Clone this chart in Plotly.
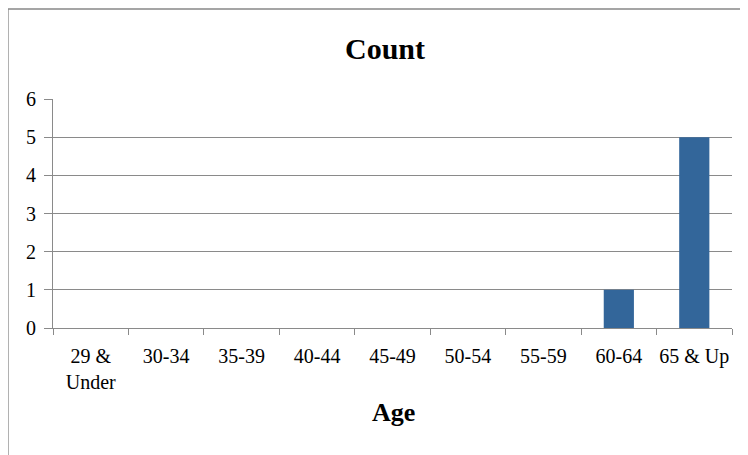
import plotly.graph_objects as go

categories = ["29 &<br>Under", "30-34", "35-39", "40-44", "45-49", "50-54", "55-59", "60-64", "65 & Up"]
counts = [0, 0, 0, 0, 0, 0, 0, 1, 5]
y_ticks = [0, 1, 2, 3, 4, 5, 6]

OFF = 8  # page body margin
W, H = 748 - OFF, 455 - OFF
L, T = 53 - OFF, 99 - OFF
pw, ph = 679, 229
R, B = W - L - pw, H - T - ph

def px_x(p):
    return (p - OFF - L) / pw

def px_y(p):
    return (T + ph - (p - OFF)) / ph

font_family = "Liberation Serif"
grey = "#8a8a8a"

fig = go.Figure()
fig.add_trace(go.Bar(
    x=categories, y=counts,
    marker=dict(color="#33669a", line=dict(width=0)),
    width=0.4,
))

fig.update_layout(
    width=W, height=H,
    margin=dict(l=L, r=R, t=T, b=B),
    paper_bgcolor="white", plot_bgcolor="white",
    showlegend=False,
    font=dict(family=font_family, size=20, color="black"),
    title=dict(text="<b>Count</b>", x=(385 - OFF) / W, xanchor="center",
               y=1 - (48 - OFF) / H, yanchor="middle",
               font=dict(family=font_family, size=30, color="black")),
    xaxis=dict(
        type="category", tickson="boundaries", ticks="outside", ticklen=6,
        tickcolor=grey, showline=True, linecolor=grey, linewidth=1,
        showgrid=False, tickfont=dict(family=font_family, size=20), tickangle=0,
        ticklabelstandoff=10,
    ),
    yaxis=dict(
        range=[0, 6], tickvals=y_ticks, ticks="outside", ticklen=8,
        tickcolor=grey, showline=True, linecolor=grey, linewidth=1,
        showgrid=True, gridcolor=grey, gridwidth=1, zeroline=False,
        tickfont=dict(family=font_family, size=20), ticklabelstandoff=4,
    ),
    shapes=[dict(
        type="rect", xref="paper", yref="paper",
        x0=px_x(8), x1=px_x(760), y0=px_y(470), y1=px_y(9),
        line=dict(color="#888888", width=1.3), fillcolor="rgba(0,0,0,0)",
        layer="below",
    )],
    annotations=[dict(
        text="<b>Age</b>", xref="paper", yref="paper",
        x=px_x(393), y=px_y(412), xanchor="center", yanchor="middle",
        showarrow=False, font=dict(family=font_family, size=26, color="black"),
    )],
)

fig.write_html("out.html")
